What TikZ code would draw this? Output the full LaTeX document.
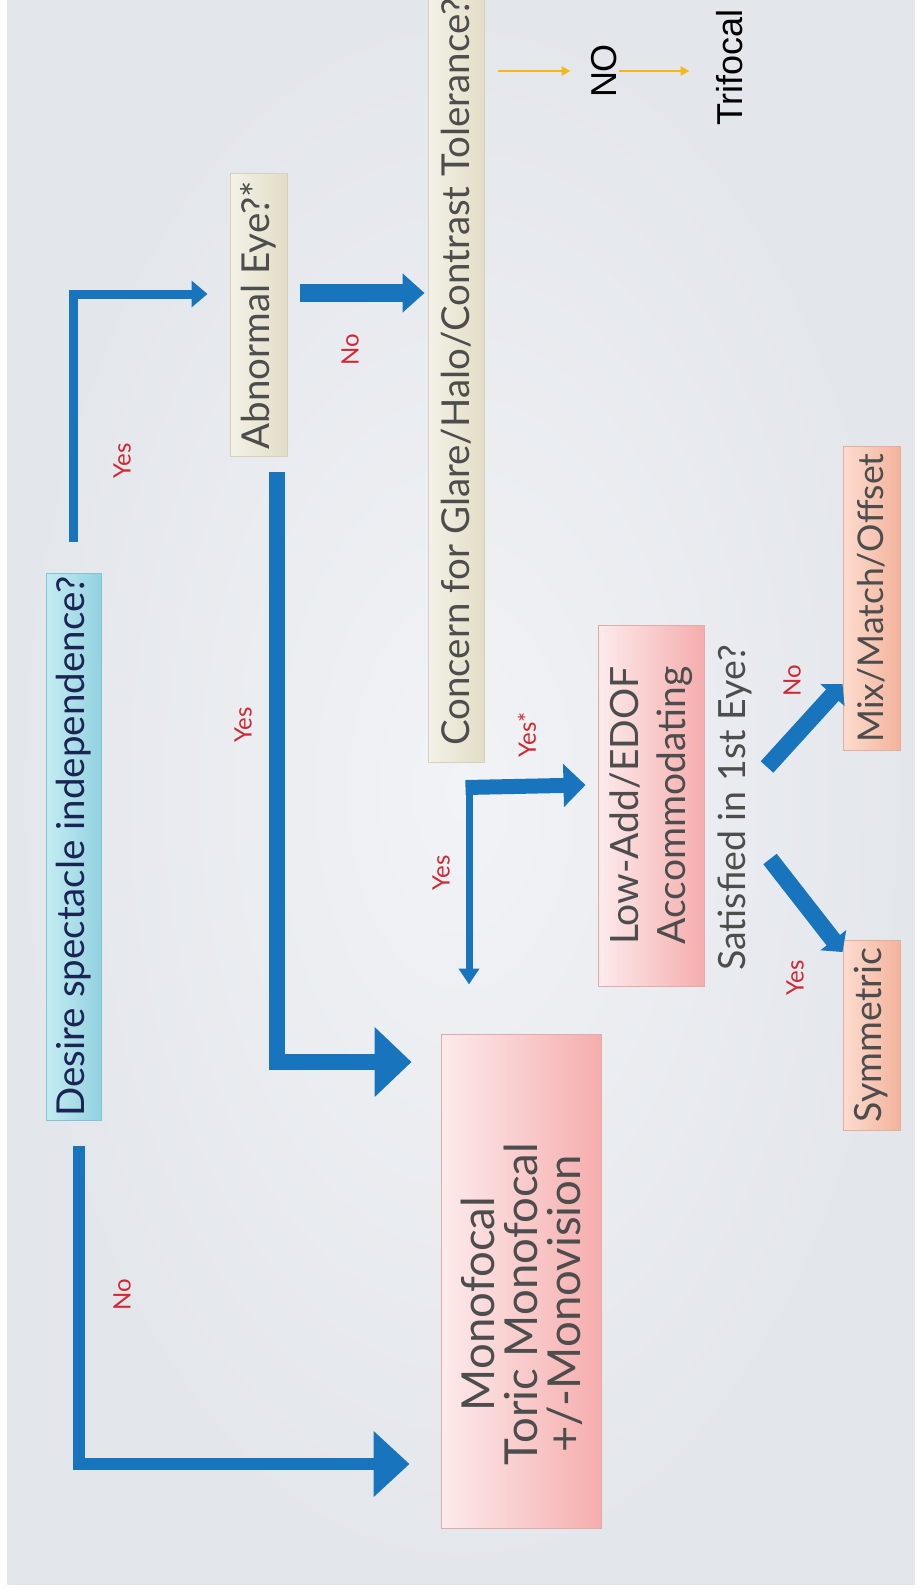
\documentclass[tikz,border=0pt]{standalone}
\usepackage{fontspec}
\setmainfont{Lato}
\newfontfamily\arialfont{Liberation Sans}
\usetikzlibrary{arrows.meta,calc}
\definecolor{bgin}{HTML}{F1F3F6}
\definecolor{bgout}{HTML}{E3E6EB}
\definecolor{flowblue}{HTML}{1874BD}
\definecolor{labred}{HTML}{D42630}
\definecolor{txtgray}{HTML}{4D4D4D}
\definecolor{navy}{HTML}{1C2454}
\definecolor{cyanL}{HTML}{C4ECF3}
\definecolor{cyanR}{HTML}{92D2E0}
\definecolor{cyanB}{HTML}{86C3D2}
\definecolor{beigeL}{HTML}{F4F2E8}
\definecolor{beigeR}{HTML}{E2DDC6}
\definecolor{beigeB}{HTML}{D6D1BC}
\definecolor{pinkL}{HTML}{FDEBEC}
\definecolor{pinkR}{HTML}{F5ADAD}
\definecolor{pinkB}{HTML}{E3AAAA}
\definecolor{peachL}{HTML}{FCDCCF}
\definecolor{peachR}{HTML}{F3B39C}
\definecolor{peachB}{HTML}{E4AE9A}
\definecolor{yarr}{HTML}{F6B816}
\tikzset{
  boxbase/.style={rectangle, rotate=90, inner sep=0pt, align=center, text=txtgray, line width=1pt},
  cyanbox/.style={boxbase, draw=cyanB, left color=cyanL, right color=cyanR, text=navy},
  beigebox/.style={boxbase, draw=beigeB, left color=beigeL, right color=beigeR},
  pinkbox/.style={boxbase, draw=pinkB, left color=pinkL, right color=pinkR},
  peachbox/.style={boxbase, draw=peachB, left color=peachL, right color=peachR},
  mainfont/.style={font=\fontsize{38.5}{46}\selectfont},
  lab/.style={rotate=90, text=labred, font=\fontsize{24}{26}\selectfont, inner sep=0pt},
  barrow/.style={draw=flowblue, line cap=butt},
  yarrow/.style={draw=yarr, line width=2.5pt, -{Triangle[width=9pt,length=9pt]}},
  blk/.style={rotate=90, inner sep=0pt, font=\arialfont\fontsize{36}{40}\selectfont}
}
\begin{document}
\begin{tikzpicture}[x=1pt,y=-1pt]
\useasboundingbox (0,0) rectangle (915,1589);
\fill[white] (0,0) rectangle (915,1589);
\shade[inner color=bgin, outer color=bgout] (7,0) rectangle (915,1584);
\begin{scope}
\clip (7,0) rectangle (915,1584);
% boxes
\node[cyanbox, mainfont, minimum width=547pt, minimum height=55pt] (desire) at (73.5,846.5) {Desire spectacle independence?};
\node[beigebox, mainfont, minimum width=282pt, minimum height=57pt] (abnormal) at (258.5,315) {Abnormal Eye?*};
\node[beigebox, mainfont, minimum width=780pt, minimum height=56pt] (concern) at (456,372) {Concern for Glare/Halo/Contrast Tolerance?};
\node[pinkbox, font=\fontsize{39}{47}\selectfont, minimum width=361pt, minimum height=106pt] (lowadd) at (651,805.5) {Low-Add/EDOF\\Accommodating};
\node[rotate=90, inner sep=0pt, text=txtgray, font=\fontsize{37.5}{44}\selectfont] (satisfied) at (735,808) {Satisfied in 1st Eye?};
\node[peachbox, font=\fontsize{35.5}{42}\selectfont, minimum width=304pt, minimum height=57pt] (mix) at (871.5,598) {Mix/Match/Offset};
\node[peachbox, font=\fontsize{37.5}{44}\selectfont, minimum width=190pt, minimum height=57pt] (sym) at (871.5,1035) {Symmetric};
\node[pinkbox, minimum width=494pt, minimum height=160pt] (mono) at (521,1281) {};
\node[rotate=90, inner sep=0pt, align=center, text=txtgray, font=\fontsize{45.5}{43}\selectfont] (monotext) at (522,1304) {Monofocal\\Toric Monofocal\\+/-Monovision};
\node[blk] (no) at (604.5,71) {NO};
\node[blk] (trifocal) at (729.5,67.5) {Trifocal};
\end{scope}
% connectors
\draw[barrow, line width=9pt, -{Triangle[width=26pt,length=16pt]}]
  ($(desire.east)+(0,-31)$) |- ($(abnormal.north)+(-22,-21)$);
\draw[barrow, line width=12pt, -{Triangle[width=64pt,length=36pt]}]
  ($(desire.west)+(5.5,25)$) |- ($(mono.north)+(-31,183)$);
\draw[barrow, line width=16pt, -{Triangle[width=68pt,length=37pt]}]
  ($(abnormal.west)+(18.5,15)$) |- ($(mono.north)+(-29,-219)$);
\draw[barrow, line width=18pt, -{Triangle[width=38pt,length=22pt]}]
  ($(abnormal.south)+(12,-22)$) -- ($(concern.north)+(-3,-79)$);
\coordinate (split) at ($(concern.west)+(13,25)$);
\draw[barrow, line width=7pt, -{Triangle[width=20pt,length=16pt]}]
  ($(split)+(0,-7)$) -- ($(mono.east)+(-52,-49)$);
\draw[barrow, line width=15pt, -{Triangle[width=42pt,length=22pt]}]
  ($(split)+(-3.5,0)$) -- ($(lowadd.north)+(-12,-20.5)$);
\draw[barrow, line width=17pt, -{Triangle[width=32pt,length=15pt]}]
  ($(satisfied.center)+(32,-41)$) -- ($(mix.north)+(0,86)$);
\draw[barrow, line width=17pt, -{Triangle[width=32pt,length=15pt]}]
  ($(satisfied.center)+(35,51)$) -- ($(sym.north)+(0,-83)$);
\draw[yarrow] ($(concern.south |- no.center)+(13,0)$) -- ($(no.center)+(-34,0)$);
\draw[yarrow] ($(no.center)+(14,0)$) -- ($(trifocal.center)+(-40,3.5)$);
% labels
\node[lab] (l1) at (122,461) {Yes};
\node[lab] (l2) at (122,1295) {No};
\node[lab] (l3) at (350,350) {No};
\node[lab] (l4) at (243,725) {Yes};
\node[lab] (l5) at (441,873) {Yes};
\node[lab] (l6) at (527,735) {Yes*};
\node[lab] (l7) at (792,681) {No};
\node[lab] (l8) at (795,978) {Yes};
\end{tikzpicture}
\end{document}
